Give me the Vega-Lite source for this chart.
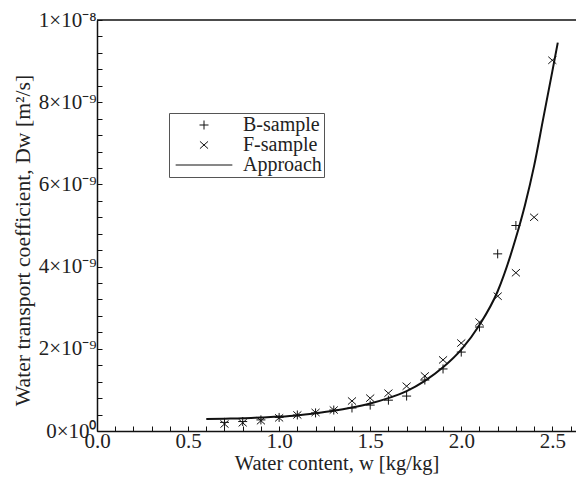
{
  "$schema": "https://vega.github.io/schema/vega-lite/v6.json",
  "width": 479,
  "height": 411,
  "autosize": {"type": "none"},
  "padding": {"left": 97, "top": 20, "right": 0, "bottom": 46},
  "background": "white",
  "config": {
    "view": {"stroke": null},
    "font": "Liberation Serif",
    "axis": {"labelFont": "Liberation Serif", "titleFont": "Liberation Serif", "labelColor": "#222", "titleColor": "#222", "domainColor": "#111", "tickColor": "#111", "grid": false, "titleFontWeight": "normal", "labelOverlap": false, "labelFlush": false}
  },
  "datasets": {
    "points": [
      {"w": 0.7, "D": 0.21, "series": "B-sample"},
      {"w": 0.8, "D": 0.23, "series": "B-sample"},
      {"w": 0.9, "D": 0.27, "series": "B-sample"},
      {"w": 1.0, "D": 0.33, "series": "B-sample"},
      {"w": 1.1, "D": 0.39, "series": "B-sample"},
      {"w": 1.2, "D": 0.44, "series": "B-sample"},
      {"w": 1.3, "D": 0.51, "series": "B-sample"},
      {"w": 1.4, "D": 0.56, "series": "B-sample"},
      {"w": 1.5, "D": 0.63, "series": "B-sample"},
      {"w": 1.6, "D": 0.75, "series": "B-sample"},
      {"w": 1.7, "D": 0.85, "series": "B-sample"},
      {"w": 1.8, "D": 1.24, "series": "B-sample"},
      {"w": 1.9, "D": 1.51, "series": "B-sample"},
      {"w": 2.0, "D": 1.92, "series": "B-sample"},
      {"w": 2.1, "D": 2.53, "series": "B-sample"},
      {"w": 2.2, "D": 4.31, "series": "B-sample"},
      {"w": 2.3, "D": 5.0, "series": "B-sample"},
      {"w": 0.7, "D": 0.17, "series": "F-sample"},
      {"w": 0.8, "D": 0.2, "series": "F-sample"},
      {"w": 0.9, "D": 0.25, "series": "F-sample"},
      {"w": 1.0, "D": 0.32, "series": "F-sample"},
      {"w": 1.1, "D": 0.39, "series": "F-sample"},
      {"w": 1.2, "D": 0.45, "series": "F-sample"},
      {"w": 1.3, "D": 0.51, "series": "F-sample"},
      {"w": 1.4, "D": 0.73, "series": "F-sample"},
      {"w": 1.5, "D": 0.8, "series": "F-sample"},
      {"w": 1.6, "D": 0.92, "series": "F-sample"},
      {"w": 1.7, "D": 1.09, "series": "F-sample"},
      {"w": 1.8, "D": 1.34, "series": "F-sample"},
      {"w": 1.9, "D": 1.73, "series": "F-sample"},
      {"w": 2.0, "D": 2.14, "series": "F-sample"},
      {"w": 2.1, "D": 2.65, "series": "F-sample"},
      {"w": 2.2, "D": 3.28, "series": "F-sample"},
      {"w": 2.3, "D": 3.85, "series": "F-sample"},
      {"w": 2.4, "D": 5.2, "series": "F-sample"},
      {"w": 2.5, "D": 9.02, "series": "F-sample"}
    ],
    "curve": [
      {"w": 0.6, "D": 0.29},
      {"w": 0.7, "D": 0.3},
      {"w": 0.8, "D": 0.31},
      {"w": 0.9, "D": 0.33},
      {"w": 1.0, "D": 0.35},
      {"w": 1.1, "D": 0.38},
      {"w": 1.2, "D": 0.43},
      {"w": 1.3, "D": 0.49},
      {"w": 1.4, "D": 0.57},
      {"w": 1.5, "D": 0.67},
      {"w": 1.6, "D": 0.8},
      {"w": 1.7, "D": 0.97},
      {"w": 1.8, "D": 1.22},
      {"w": 1.9, "D": 1.55},
      {"w": 2.0, "D": 1.98},
      {"w": 2.1, "D": 2.58},
      {"w": 2.2, "D": 3.4},
      {"w": 2.3, "D": 4.7},
      {"w": 2.35, "D": 5.5},
      {"w": 2.4, "D": 6.45},
      {"w": 2.45, "D": 7.6},
      {"w": 2.5, "D": 8.75},
      {"w": 2.53, "D": 9.45}
    ],
    "frame": [{"x0": 0, "x1": 2.63, "top": 10}]
  },
  "resolve": {"axis": {"x": "independent", "y": "independent"}},
  "layer": [
    {
      "data": {"name": "points"},
      "mark": {"type": "point", "filled": false, "stroke": "#111", "strokeWidth": 1, "size": 81, "opacity": 1},
      "encoding": {
        "x": {
          "field": "w", "type": "quantitative",
          "scale": {"domain": [0, 2.63], "nice": false},
          "axis": {
            "orient": "bottom",
            "title": "Water content, w [kg/kg]",
            "titleFontSize": 20.5,
            "titlePadding": 2,
            "labelFontSize": 21,
            "values": [0, 0.5, 1.0, 1.5, 2.0, 2.5],
            "format": ".1f",
            "tickSize": -5,
            "labelPadding": 4,
            "domainWidth": 1.5
          }
        },
        "y": {
          "field": "D", "type": "quantitative",
          "scale": {"domain": [0, 10], "nice": false},
          "axis": {
            "orient": "left",
            "title": "Water transport coefficient, Dw [m²/s]",
            "titleFontSize": 21.7,
            "labelFontSize": 21,
            "values": [0, 2, 4, 6, 8, 10],
            "labelExpr": "datum.value == 0 ? '0×10⁰' : (datum.value == 10 ? '1×10⁻⁸' : format(datum.value, 'd') + '×10⁻⁹')",
            "tickSize": -5,
            "labelPadding": 6,
            "domainWidth": 1.5,
            "titleX": -63,
            "titleY": 220
          }
        },
        "shape": {
          "field": "series", "type": "nominal",
          "scale": {
            "domain": ["B-sample", "F-sample", "Approach"],
            "range": ["M-1,0H1M0,-1V1", "M-0.9,-0.8L0.9,0.8M-0.9,0.8L0.9,-0.8", "M-6.3,0H6.3"]
          },
          "legend": {
            "title": null,
            "orient": "none",
            "legendX": 72,
            "legendY": 93,
            "strokeColor": "#555",
            "padding": 2,
            "labelFont": "Liberation Serif",
            "labelFontSize": 20,
            "labelColor": "#222",
            "symbolSize": 81,
            "symbolStrokeColor": "#111",
            "symbolFillColor": "transparent",
            "symbolStrokeWidth": 1,
            "symbolOffset": 23,
            "labelOffset": 29,
            "rowPadding": 0,
            "fillColor": "white",
            "encode": {"symbols": {"update": {"strokeWidth": {"signal": "datum.value === 'Approach' ? 2 : 1"}}}}
          }
        }
      }
    },
    {
      "data": {"name": "curve"},
      "mark": {"type": "line", "color": "#111", "strokeWidth": 2, "interpolate": "monotone"},
      "encoding": {
        "x": {"field": "w", "type": "quantitative", "axis": {"orient": "bottom", "title": null, "labels": false, "domain": false, "tickSize": -5, "values": [0.1, 0.2, 0.3, 0.4, 0.6, 0.7, 0.8, 0.9, 1.1, 1.2, 1.3, 1.4, 1.6, 1.7, 1.8, 1.9, 2.1, 2.2, 2.3, 2.4, 2.6]}},
        "y": {"field": "D", "type": "quantitative", "axis": {"orient": "left", "title": null, "labels": false, "domain": false, "tickSize": -5, "values": [0.4, 0.8, 1.2, 1.6, 2.4, 2.8, 3.2, 3.6, 4.4, 4.8, 5.2, 5.6, 6.4, 6.8, 7.2, 7.6, 8.4, 8.8, 9.2, 9.6]}}
      }
    },
    {
      "data": {"name": "frame"},
      "mark": {"type": "rule", "color": "#111", "strokeWidth": 1.5},
      "encoding": {
        "x": {"field": "x0", "type": "quantitative", "axis": null},
        "x2": {"field": "x1"},
        "y": {"field": "top", "type": "quantitative", "axis": null}
      }
    }
  ]
}
